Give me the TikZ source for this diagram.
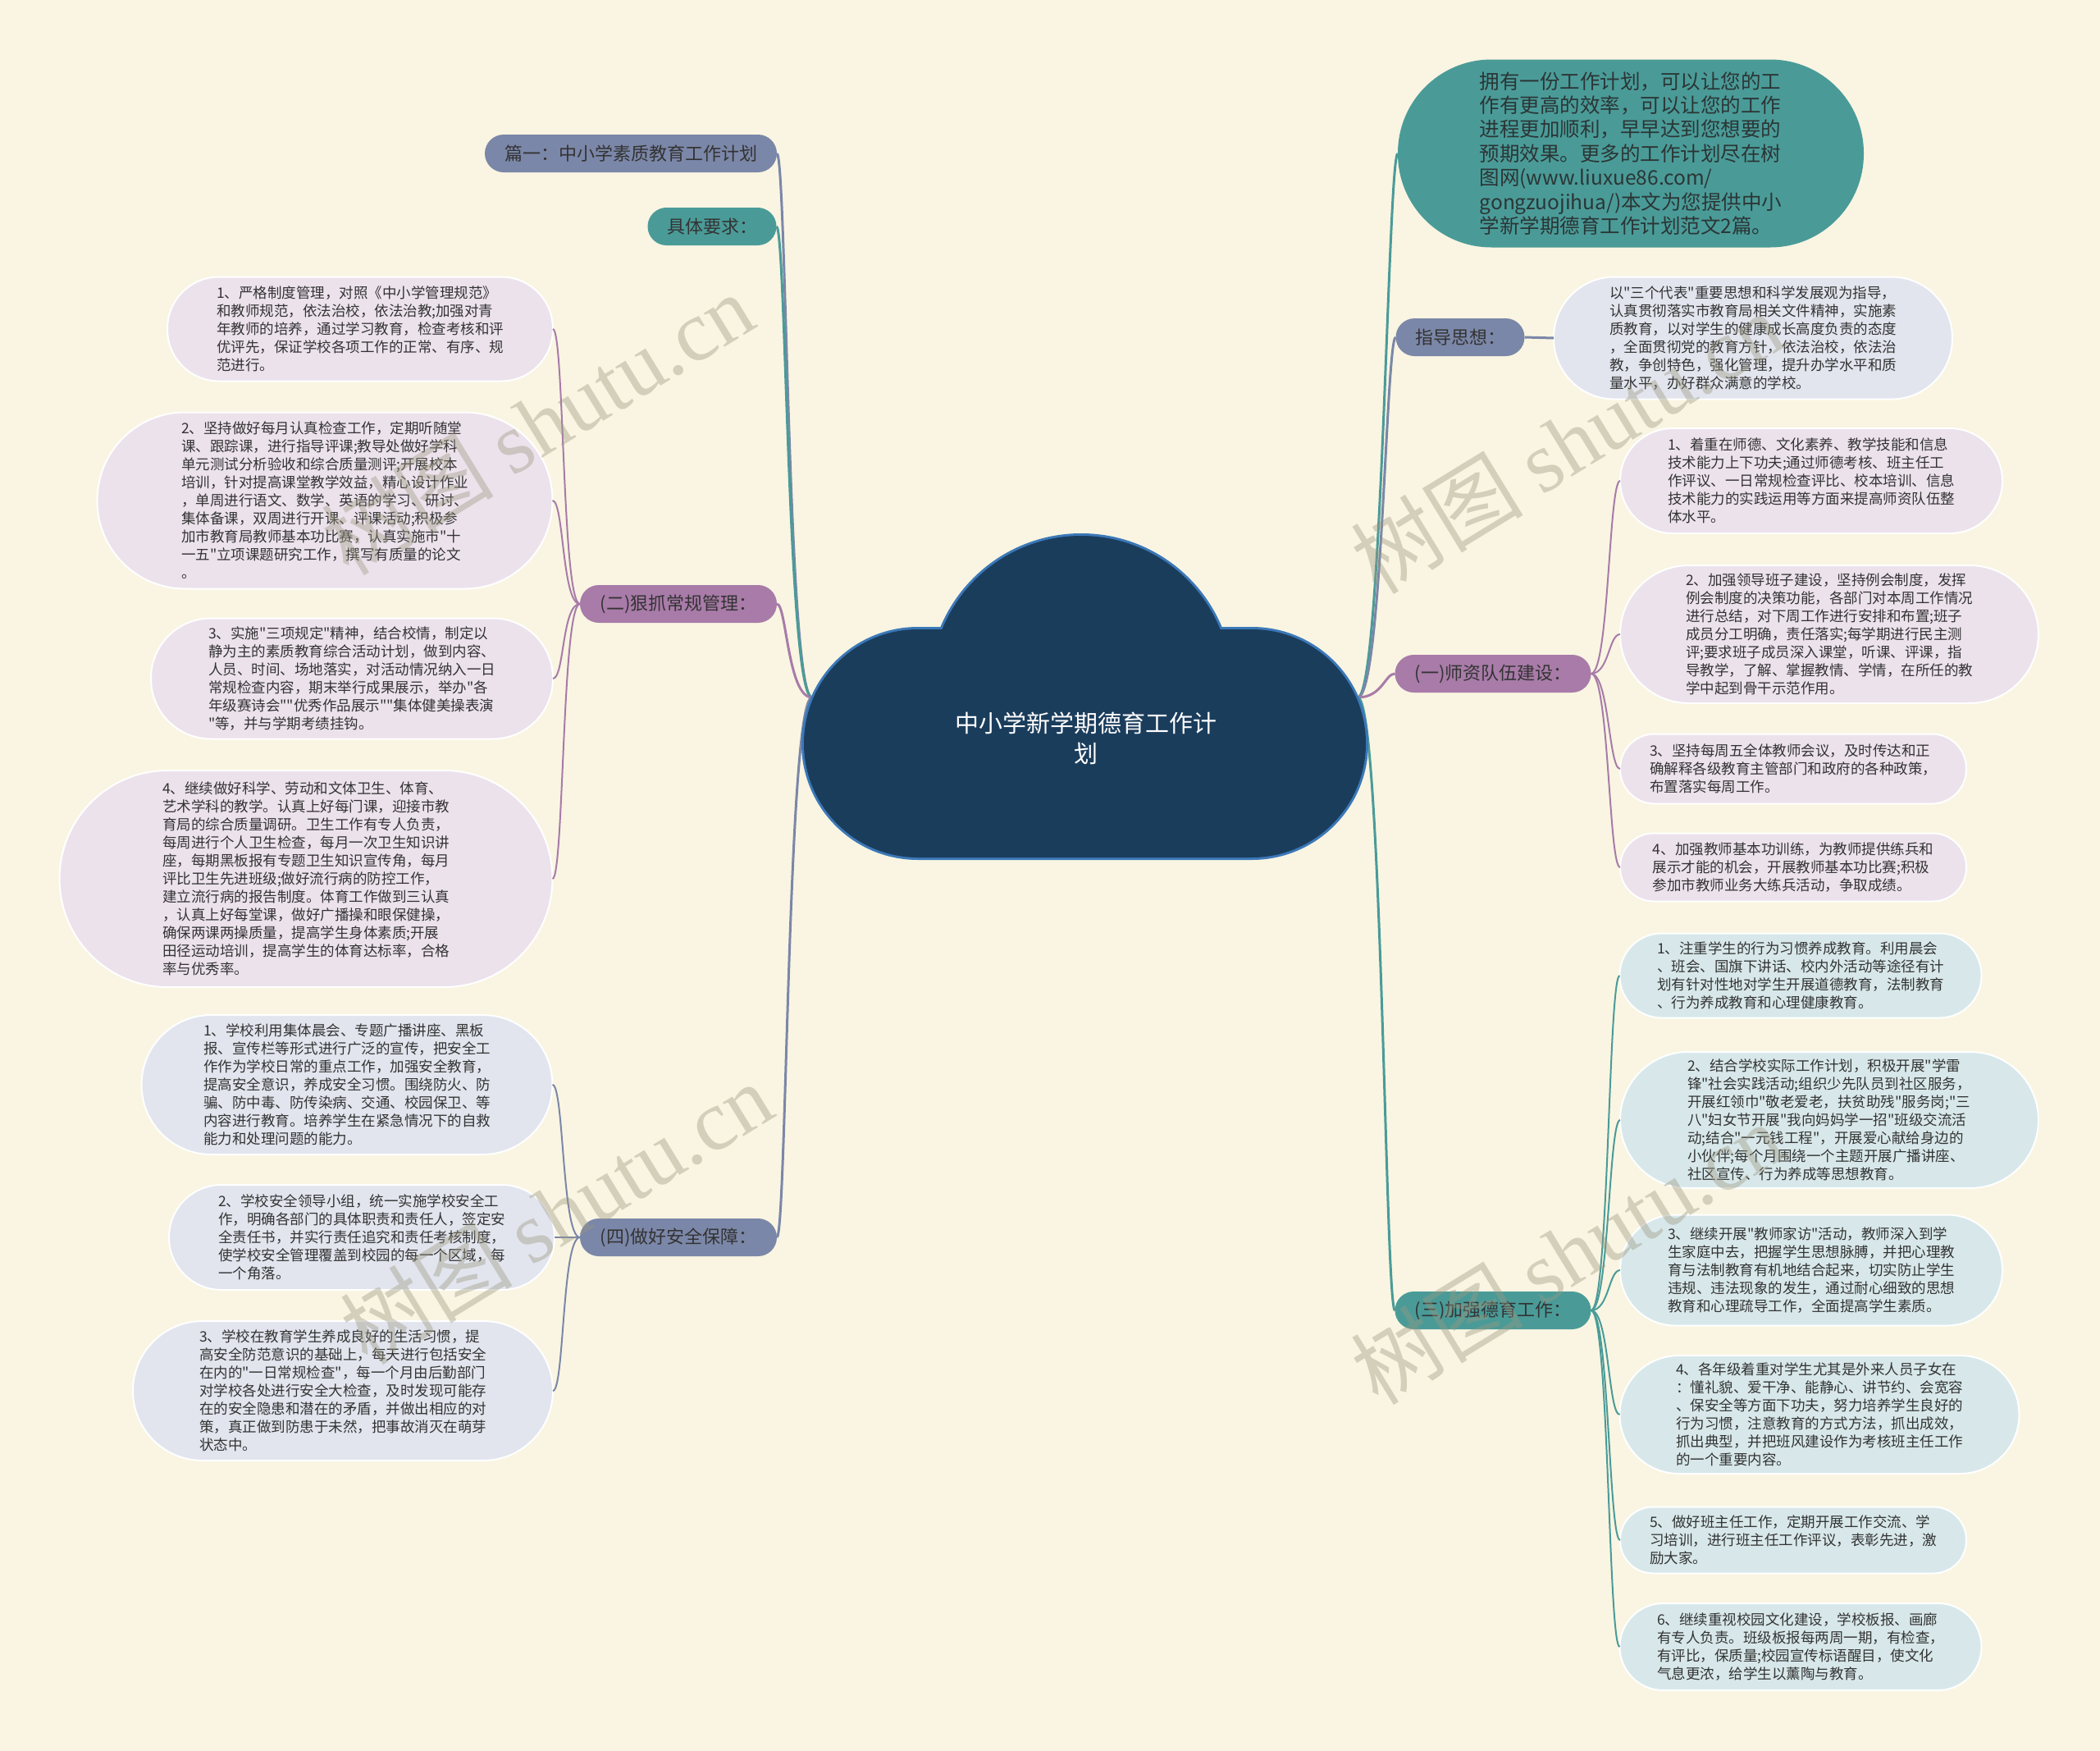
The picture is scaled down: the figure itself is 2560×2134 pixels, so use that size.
\documentclass[tikz,border=0pt]{standalone}
\usepackage{fontspec}
\setmainfont{Noto Sans CJK SC}[Ligatures=TeXOff]
\newfontfamily\wmserif{Liberation Serif}
\usetikzlibrary{calc}
\definecolor{bgc}{HTML}{F9F5E2}
\definecolor{slatec}{HTML}{7B87A8}
\definecolor{tealc}{HTML}{4A9B98}
\definecolor{purpc}{HTML}{A87BA8}
\definecolor{lavc}{HTML}{ECE2EC}
\definecolor{pbluec}{HTML}{E2E5EE}
\definecolor{ptealc}{HTML}{D8E8EA}
\definecolor{navyc}{HTML}{1B3D5C}
\definecolor{navybc}{HTML}{3B78B8}
\definecolor{txtc}{HTML}{333333}
\definecolor{notetxt}{HTML}{2B3535}
\definecolor{wmc}{HTML}{9A9780}
\tikzset{
  every node/.style={inner sep=0pt, outer sep=0pt},
  lbl/.style={rectangle, text=txtc, font=\fontsize{22}{26}\selectfont, minimum height=46pt, rounded corners=23pt},
  box/.style={rectangle, draw=white, line width=2pt, text=txtc, align=left, font=\fontsize{17.5}{22}\selectfont},
  conn/.style={line width=3pt},
  subconn/.style={line width=2pt},
  wm/.style={text=wmc, opacity=0.4, font=\fontsize{105}{105}\selectfont, rotate=31.5},
}
\begin{document}
\begin{tikzpicture}[x=1pt, y=-1pt]
\fill[bgc] (0,0) rectangle (2560,2134);
\useasboundingbox (0,0) rectangle (2560,2134);

% anchor points of the central topic
\coordinate (rootW) at (990,850);
\coordinate (rootE) at (1655,850);

% ---------------- left first level ----------------
\node[lbl, fill=slatec, minimum width=356pt] (L0) at (769,187) {篇一：中小学素质教育工作计划};
\node[lbl, fill=tealc, minimum width=157pt] (L1) at (868,276) {具体要求：};
\node[lbl, fill=purpc, minimum width=240pt] (L2) at (827,736) {(二)狠抓常规管理：};
\node[lbl, fill=slatec, minimum width=240pt] (L3) at (827,1508) {(四)做好安全保障：};

% ---------------- right first level ----------------
\node[rectangle, fill=tealc, minimum width=568pt, minimum height=229pt, rounded corners=114pt,
      text=notetxt, align=left, font=\fontsize{24.5}{29.4}\selectfont] (R0) at (1988,187)
  {拥有一份工作计划，可以让您的工\\
   作有更高的效率，可以让您的工作\\
   进程更加顺利，早早达到您想要的\\
   预期效果。更多的工作计划尽在树\\
   图网(www.liuxue86.com/\\
   gongzuojihua/)本文为您提供中小\\
   学新学期德育工作计划范文2篇。};
\node[lbl, fill=slatec, minimum width=157pt] (R1) at (1780,411) {指导思想：};
\node[lbl, fill=purpc, minimum width=239pt] (R2) at (1820,821) {(一)师资队伍建设：};
\node[lbl, fill=tealc, minimum width=239pt] (R3) at (1820,1597) {(三)加强德育工作：};

% ---------------- (二) children ----------------
\node[box, fill=lavc, minimum width=470pt, minimum height=127pt, rounded corners=63pt] (b1) at (439,401)
  {1、严格制度管理，对照《中小学管理规范》\\
   和教师规范，依法治校，依法治教;加强对青\\
   年教师的培养，通过学习教育，检查考核和评\\
   优评先，保证学校各项工作的正常、有序、规\\
   范进行。};
\node[box, fill=lavc, minimum width=555pt, minimum height=215pt, rounded corners=107pt] (b2) at (396,610)
  {2、坚持做好每月认真检查工作，定期听随堂\\
   课、跟踪课，进行指导评课;教导处做好学科\\
   单元测试分析验收和综合质量测评;开展校本\\
   培训，针对提高课堂教学效益，精心设计作业\\
   ，单周进行语文、数学、英语的学习、研讨、\\
   集体备课，双周进行开课、评课活动;积极参\\
   加市教育局教师基本功比赛，认真实施市"十\\
   一五"立项课题研究工作，撰写有质量的论文\\
   。};
\node[box, fill=lavc, minimum width=490pt, minimum height=147pt, rounded corners=73pt] (b3) at (429,827)
  {3、实施"三项规定"精神，结合校情，制定以\\
   静为主的素质教育综合活动计划，做到内容、\\
   人员、时间、场地落实，对活动情况纳入一日\\
   常规检查内容，期末举行成果展示，举办"各\\
   年级赛诗会""优秀作品展示""集体健美操表演\\
   "等，并与学期考绩挂钩。};
\node[box, fill=lavc, minimum width=601pt, minimum height=264pt, rounded corners=132pt] (b4) at (373,1071)
  {4、继续做好科学、劳动和文体卫生、体育、\\
   艺术学科的教学。认真上好每门课，迎接市教\\
   育局的综合质量调研。卫生工作有专人负责，\\
   每周进行个人卫生检查，每月一次卫生知识讲\\
   座，每期黑板报有专题卫生知识宣传角，每月\\
   评比卫生先进班级;做好流行病的防控工作，\\
   建立流行病的报告制度。体育工作做到三认真\\
   ，认真上好每堂课，做好广播操和眼保健操，\\
   确保两课两操质量，提高学生身体素质;开展\\
   田径运动培训，提高学生的体育达标率，合格\\
   率与优秀率。};

% ---------------- (四) children ----------------
\node[box, fill=pbluec, minimum width=501pt, minimum height=170pt, rounded corners=85pt] (s1) at (423,1322)
  {1、学校利用集体晨会、专题广播讲座、黑板\\
   报、宣传栏等形式进行广泛的宣传，把安全工\\
   作作为学校日常的重点工作，加强安全教育，\\
   提高安全意识，养成安全习惯。围绕防火、防\\
   骗、防中毒、防传染病、交通、校园保卫、等\\
   内容进行教育。培养学生在紧急情况下的自救\\
   能力和处理问题的能力。};
\node[box, fill=pbluec, minimum width=470pt, minimum height=128pt, rounded corners=64pt] (s2) at (441,1508)
  {2、学校安全领导小组，统一实施学校安全工\\
   作，明确各部门的具体职责和责任人，签定安\\
   全责任书，并实行责任追究和责任考核制度，\\
   使学校安全管理覆盖到校园的每一个区域，每\\
   一个角落。};
\node[box, fill=pbluec, minimum width=512pt, minimum height=170pt, rounded corners=85pt] (s3) at (418,1695)
  {3、学校在教育学生养成良好的生活习惯，提\\
   高安全防范意识的基础上，每天进行包括安全\\
   在内的"一日常规检查"，每一个月由后勤部门\\
   对学校各处进行安全大检查，及时发现可能存\\
   在的安全隐患和潜在的矛盾，并做出相应的对\\
   策，真正做到防患于未然，把事故消灭在萌芽\\
   状态中。};

% ---------------- 指导思想 child ----------------
\node[box, fill=pbluec, minimum width=486pt, minimum height=149pt, rounded corners=74pt] (g1) at (2137,412)
  {以"三个代表"重要思想和科学发展观为指导，\\
   认真贯彻落实市教育局相关文件精神，实施素\\
   质教育，以对学生的健康成长高度负责的态度\\
   ，全面贯彻党的教育方针，依法治校，依法治\\
   教，争创特色，强化管理，提升办学水平和质\\
   量水平，办好群众满意的学校。};

% ---------------- (一) children ----------------
\node[box, fill=lavc, minimum width=466pt, minimum height=128pt, rounded corners=64pt] (t1) at (2208,586)
  {1、着重在师德、文化素养、教学技能和信息\\
   技术能力上下功夫;通过师德考核、班主任工\\
   作评议、一日常规检查评比、校本培训、信息\\
   技术能力的实践运用等方面来提高师资队伍整\\
   体水平。};
\node[box, fill=lavc, minimum width=510pt, minimum height=168pt, rounded corners=84pt] (t2) at (2230,773)
  {2、加强领导班子建设，坚持例会制度，发挥\\
   例会制度的决策功能，各部门对本周工作情况\\
   进行总结，对下周工作进行安排和布置;班子\\
   成员分工明确，责任落实;每学期进行民主测\\
   评;要求班子成员深入课堂，听课、评课，指\\
   导教学，了解、掌握教情、学情，在所任的教\\
   学中起到骨干示范作用。};
\node[box, fill=lavc, minimum width=422pt, minimum height=85pt, rounded corners=42pt] (t3) at (2186,937)
  {3、坚持每周五全体教师会议，及时传达和正\\
   确解释各级教育主管部门和政府的各种政策，\\
   布置落实每周工作。};
\node[box, fill=lavc, minimum width=422pt, minimum height=83pt, rounded corners=41pt] (t4) at (2186,1057)
  {4、加强教师基本功训练，为教师提供练兵和\\
   展示才能的机会，开展教师基本功比赛;积极\\
   参加市教师业务大练兵活动，争取成绩。};

% ---------------- (三) children ----------------
\node[box, fill=ptealc, minimum width=441pt, minimum height=103pt, rounded corners=51pt] (m1) at (2195,1189)
  {1、注重学生的行为习惯养成教育。利用晨会\\
   、班会、国旗下讲话、校内外活动等途径有计\\
   划有针对性地对学生开展道德教育，法制教育\\
   、行为养成教育和心理健康教育。};
\node[box, fill=ptealc, minimum width=510pt, minimum height=166pt, rounded corners=83pt] (m2) at (2230,1365)
  {2、结合学校实际工作计划，积极开展"学雷\\
   锋"社会实践活动;组织少先队员到社区服务，\\
   开展红领巾"敬老爱老，扶贫助残"服务岗;"三\\
   八"妇女节开展"我向妈妈学一招"班级交流活\\
   动;结合"一元钱工程"，开展爱心献给身边的\\
   小伙伴;每个月围绕一个主题开展广播讲座、\\
   社区宣传、行为养成等思想教育。};
\node[box, fill=ptealc, minimum width=466pt, minimum height=135pt, rounded corners=67pt] (m3) at (2208,1548)
  {3、继续开展"教师家访"活动，教师深入到学\\
   生家庭中去，把握学生思想脉膊，并把心理教\\
   育与法制教育有机地结合起来，切实防止学生\\
   违规、违法现象的发生，通过耐心细致的思想\\
   教育和心理疏导工作，全面提高学生素质。};
\node[box, fill=ptealc, minimum width=487pt, minimum height=144pt, rounded corners=72pt] (m4) at (2218,1724)
  {4、各年级着重对学生尤其是外来人员子女在\\
   ：懂礼貌、爱干净、能静心、讲节约、会宽容\\
   、保安全等方面下功夫，努力培养学生良好的\\
   行为习惯，注意教育的方式方法，抓出成效，\\
   抓出典型，并把班风建设作为考核班主任工作\\
   的一个重要内容。};
\node[box, fill=ptealc, minimum width=422pt, minimum height=81pt, rounded corners=40pt] (m5) at (2186,1877)
  {5、做好班主任工作，定期开展工作交流、学\\
   习培训，进行班主任工作评议，表彰先进，激\\
   励大家。};
\node[box, fill=ptealc, minimum width=441pt, minimum height=106pt, rounded corners=53pt] (m6) at (2195,2007)
  {6、继续重视校园文化建设，学校板报、画廊\\
   有专人负责。班级板报每两周一期，有检查，\\
   有评比，保质量;校园宣传标语醒目，使文化\\
   气息更浓，给学生以薰陶与教育。};

% ---------------- connectors ----------------
\draw[conn, slatec] (rootW) .. controls +(-30,0) and +(12,0) .. (L0.east);
\draw[conn, tealc]  (rootW) .. controls +(-30,0) and +(12,0) .. (L1.east);
\draw[conn, purpc]  (rootW) .. controls +(-30,0) and +(12,0) .. (L2.east);
\draw[conn, slatec] (rootW) .. controls +(-30,0) and +(12,0) .. (L3.east);

\draw[conn, tealc]  (rootE) .. controls +(30,0) and +(-12,0) .. (R0.west);
\draw[conn, slatec] (rootE) .. controls +(30,0) and +(-12,0) .. (R1.west);
\draw[conn, purpc]  (rootE) .. controls +(30,0) and +(-12,0) .. (R2.west);
\draw[conn, tealc]  (rootE) .. controls +(30,0) and +(-12,0) .. (R3.west);

\foreach \c in {b1,b2,b3,b4}
  \draw[subconn, purpc] (L2.west) .. controls +(-22,0) and +(14,0) .. (\c.east);
\foreach \c in {s1,s2,s3}
  \draw[subconn, slatec] (L3.west) .. controls +(-22,0) and +(14,0) .. (\c.east);
\draw[conn, slatec] (R1.east) -- (g1.west);
\foreach \c in {t1,t2,t3,t4}
  \draw[subconn, purpc] (R2.east) .. controls +(22,0) and +(-14,0) .. (\c.west);
\foreach \c in {m1,m2,m3,m4,m5,m6}
  \draw[subconn, tealc] (R3.east) .. controls +(22,0) and +(-14,0) .. (\c.west);

% ---------------- central cloud ----------------
\path[draw=navybc, fill=navybc, line width=6pt]
  (1318,836) circle[radius=183pt]
  [rounded corners=139pt] (980,767) rectangle (1665,1045);
\path[fill=navyc]
  (1318,836) circle[radius=183pt]
  [rounded corners=139pt] (980,767) rectangle (1665,1045);
\node[text=white, align=center, font=\fontsize{29}{37.5}\selectfont] (root) at (1324,900)
  {中小学新学期德育工作计\\划};

% ---------------- watermarks ----------------
\node[wm] (wm1) at (655,516) {树图 {\wmserif shutu.cn}};
\node[wm] (wm2) at (678,1478) {树图 {\wmserif shutu.cn}};
\node[wm] (wm3) at (1910,539) {树图 {\wmserif shutu.cn}};
\node[wm] (wm4) at (1910,1527) {树图 {\wmserif shutu.cn}};
\end{tikzpicture}
\end{document}
